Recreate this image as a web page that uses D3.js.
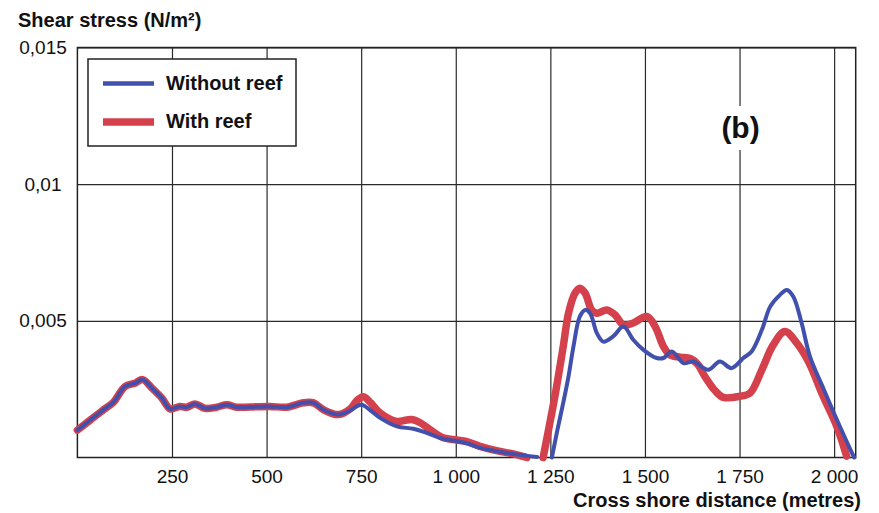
<!DOCTYPE html>
<html>
<head>
<meta charset="utf-8">
<script src="https://cdn.jsdelivr.net/npm/d3@7"></script>
<style type="text/css">
  body{
    margin: 0;
    background: white;
    font-family: 'Liberation Sans', Arial, sans-serif;
  }
  .grid line{
    stroke: #2a2a2a;
    stroke-width: 1.2;
  }
  .grid path{
    stroke: none;
  }
  .tickText{
    font-size: 19px;
    fill: #111;
  }
  .boldText{
    font-size: 20px;
    font-weight: bold;
    fill: #111;
  }
</style>
</head>
<body>
<svg id="chart" width="879" height="513"></svg>
<script>

// tick values
var xTicks = [250, 500, 750, 1000, 1250, 1500, 1750, 2000];
var yTicks = [0.005, 0.01, 0.015];

var seriesNames = ["Without reef", "With reef"];

// Without reef (blue), null = gap in the curve
var blueDist = [0, 35, 69, 95, 126, 152, 173, 197, 223, 245, 271, 289, 311, 337, 368, 395, 421, 456, 509, 553, 597, 624, 650, 690, 721, 750, 775, 800, 844, 888, 923, 967, 1003, 1029, 1064, 1108, 1152, 1190, 1215,
  1235,
  1254, 1267, 1284, 1298, 1311, 1328, 1342, 1355, 1373, 1390, 1416, 1443, 1469, 1496, 1531, 1549, 1571, 1602, 1628, 1667, 1698, 1729, 1760, 1782, 1809, 1831, 1857, 1875, 1892, 1914, 1936, 1973, 2007, 2047, 2053];
var blueStress = [0.00100, 0.00138, 0.00175, 0.00202, 0.00260, 0.00272, 0.00285, 0.00254, 0.00218, 0.00178, 0.00187, 0.00184, 0.00196, 0.00180, 0.00184, 0.00193, 0.00184, 0.00185, 0.00187, 0.00184, 0.00200, 0.00200, 0.00175, 0.00157, 0.00172, 0.00193, 0.00172, 0.00145, 0.00114, 0.00105, 0.00090, 0.00068, 0.00060, 0.00052, 0.00035, 0.00023, 0.00013, 0.00006, 0.00002,
  null,
  0.00000, 0.00090, 0.00200, 0.00297, 0.00406, 0.00516, 0.00540, 0.00528, 0.00455, 0.00424, 0.00443, 0.00479, 0.00431, 0.00394, 0.00364, 0.00364, 0.00388, 0.00345, 0.00351, 0.00321, 0.00351, 0.00327, 0.00364, 0.00388, 0.00467, 0.00552, 0.00595, 0.00613, 0.00589, 0.00492, 0.00370, 0.00248, 0.00139, 0.00017, 0.00000];

// With reef (red)
var redDist = [0, 35, 69, 95, 126, 152, 173, 197, 223, 245, 271, 289, 311, 337, 368, 395, 421, 456, 509, 553, 597, 624, 650, 690, 721, 740, 756, 775, 800, 844, 870, 884, 905, 932, 967, 1003, 1029, 1064, 1108, 1152, 1188,
  1210,
  1231, 1245, 1262, 1284, 1298, 1315, 1328, 1342, 1359, 1373, 1399, 1421, 1443, 1469, 1505, 1527, 1549, 1566, 1593, 1620, 1640, 1658, 1685, 1707, 1751, 1778, 1809, 1839, 1870, 1901, 1932, 1971, 2007, 2033];
var redStress = [0.00100, 0.00138, 0.00175, 0.00202, 0.00260, 0.00272, 0.00285, 0.00254, 0.00218, 0.00178, 0.00187, 0.00184, 0.00196, 0.00180, 0.00184, 0.00193, 0.00184, 0.00185, 0.00187, 0.00184, 0.00200, 0.00200, 0.00175, 0.00157, 0.00178, 0.00210, 0.00222, 0.00200, 0.00163, 0.00132, 0.00137, 0.00139, 0.00128, 0.00102, 0.00072, 0.00064, 0.00058, 0.00041, 0.00025, 0.00013, 0.00000,
  null,
  0.00000, 0.00100, 0.00224, 0.00406, 0.00528, 0.00601, 0.00619, 0.00601, 0.00540, 0.00528, 0.00540, 0.00522, 0.00485, 0.00492, 0.00516, 0.00479, 0.00406, 0.00376, 0.00367, 0.00362, 0.00340, 0.00297, 0.00245, 0.00220, 0.00224, 0.00236, 0.00321, 0.00412, 0.00461, 0.00419, 0.00351, 0.00224, 0.00114, 0.00005];

var blueColor = "#4150ad";
var redColor = "#d4414c";

var plotLeft = 77.4, plotRight = 855.7, plotTop = 47.5, plotBottom = 457.5;

var svg = d3.select("#chart");

var x = d3.scaleLinear().domain([0, 2057]).range([plotLeft, plotRight]);
var y = d3.scaleLinear().domain([0, 0.015]).range([plotBottom, plotTop]);

var locale = d3.formatLocale({decimal: ",", thousands: " ", grouping: [3], currency: ["", ""]});

// grid + tick labels
var xAxis = svg.append("g")
  .attr("class", "grid")
  .attr("transform", "translate(0," + plotBottom + ")")
  .call(d3.axisBottom(x)
    .tickValues(xTicks)
    .tickSize(-(plotBottom - plotTop))
    .tickPadding(12)
    .tickFormat(locale.format(",")));

xAxis.selectAll("text")
  .attr("class", "tickText")
  .attr("font-family", null)
  .attr("font-size", null);

var yAxis = svg.append("g")
  .attr("class", "grid")
  .attr("transform", "translate(" + plotLeft + ",0)")
  .call(d3.axisLeft(y)
    .tickValues(yTicks)
    .tickSize(-(plotRight - plotLeft))
    .tickFormat(locale.format("~")));

yAxis.selectAll("text")
  .attr("class", "tickText")
  .attr("x", 43 - plotLeft)
  .attr("text-anchor", "middle");

svg.selectAll(".grid").attr("font-family", null).attr("font-size", null);

// frame
svg.append("rect")
  .attr("x", plotLeft)
  .attr("y", plotTop)
  .attr("width", plotRight - plotLeft)
  .attr("height", plotBottom - plotTop)
  .attr("fill", "none")
  .attr("stroke", "#222")
  .attr("stroke-width", 1.5);

// "(b)" label sits on the 1750 grid line with a white patch behind
svg.append("rect")
  .attr("x", x(1750) - 22)
  .attr("y", 106)
  .attr("width", 44)
  .attr("height", 44)
  .attr("fill", "white");

svg.append("text")
  .attr("class", "boldText")
  .attr("x", x(1750) + 1)
  .attr("y", 138)
  .attr("text-anchor", "middle")
  .style("font-size", "30px")
  .text("(b)");

// curves
var line = d3.line()
  .defined(function(d) { return d.v !== null; })
  .x(function(d) { return x(d.d); })
  .y(function(d) { return y(d.v); })
  .curve(d3.curveCatmullRom.alpha(0.5));

var redData = redDist.map(function(d, i) { return {d: d, v: redStress[i]}; });
var blueData = blueDist.map(function(d, i) { return {d: d, v: blueStress[i]}; });

svg.append("path")
  .datum(redData)
  .attr("d", line)
  .attr("fill", "none")
  .attr("stroke", redColor)
  .attr("stroke-width", 7.5)
  .attr("stroke-linejoin", "round")
  .attr("stroke-linecap", "round");

svg.append("path")
  .datum(blueData)
  .attr("d", line)
  .attr("fill", "none")
  .attr("stroke", blueColor)
  .attr("stroke-width", 4)
  .attr("stroke-linejoin", "round")
  .attr("stroke-linecap", "round");

// legend
var legend = svg.append("g");

legend.append("rect")
  .attr("x", 88)
  .attr("y", 59)
  .attr("width", 208)
  .attr("height", 87)
  .attr("fill", "white")
  .attr("stroke", "#222")
  .attr("stroke-width", 1.5);

var legendItems = [
  {name: seriesNames[0], color: blueColor, width: 4.3, y: 83.5},
  {name: seriesNames[1], color: redColor, width: 7.5, y: 122}
];

legendItems.forEach(function(k) {
  legend.append("line")
    .attr("x1", 103).attr("x2", 154)
    .attr("y1", k.y).attr("y2", k.y)
    .attr("stroke", k.color)
    .attr("stroke-width", k.width);
  legend.append("text")
    .attr("class", "boldText")
    .attr("x", 166)
    .attr("y", k.y + 6)
    .text(k.name);
});

// titles
svg.append("text")
  .attr("class", "boldText")
  .attr("x", 18)
  .attr("y", 27)
  .text("Shear stress (N/m²)");

svg.append("text")
  .attr("class", "boldText")
  .attr("x", 861)
  .attr("y", 507)
  .attr("text-anchor", "end")
  .text("Cross shore distance (metres)");

</script>
</body>
</html>
